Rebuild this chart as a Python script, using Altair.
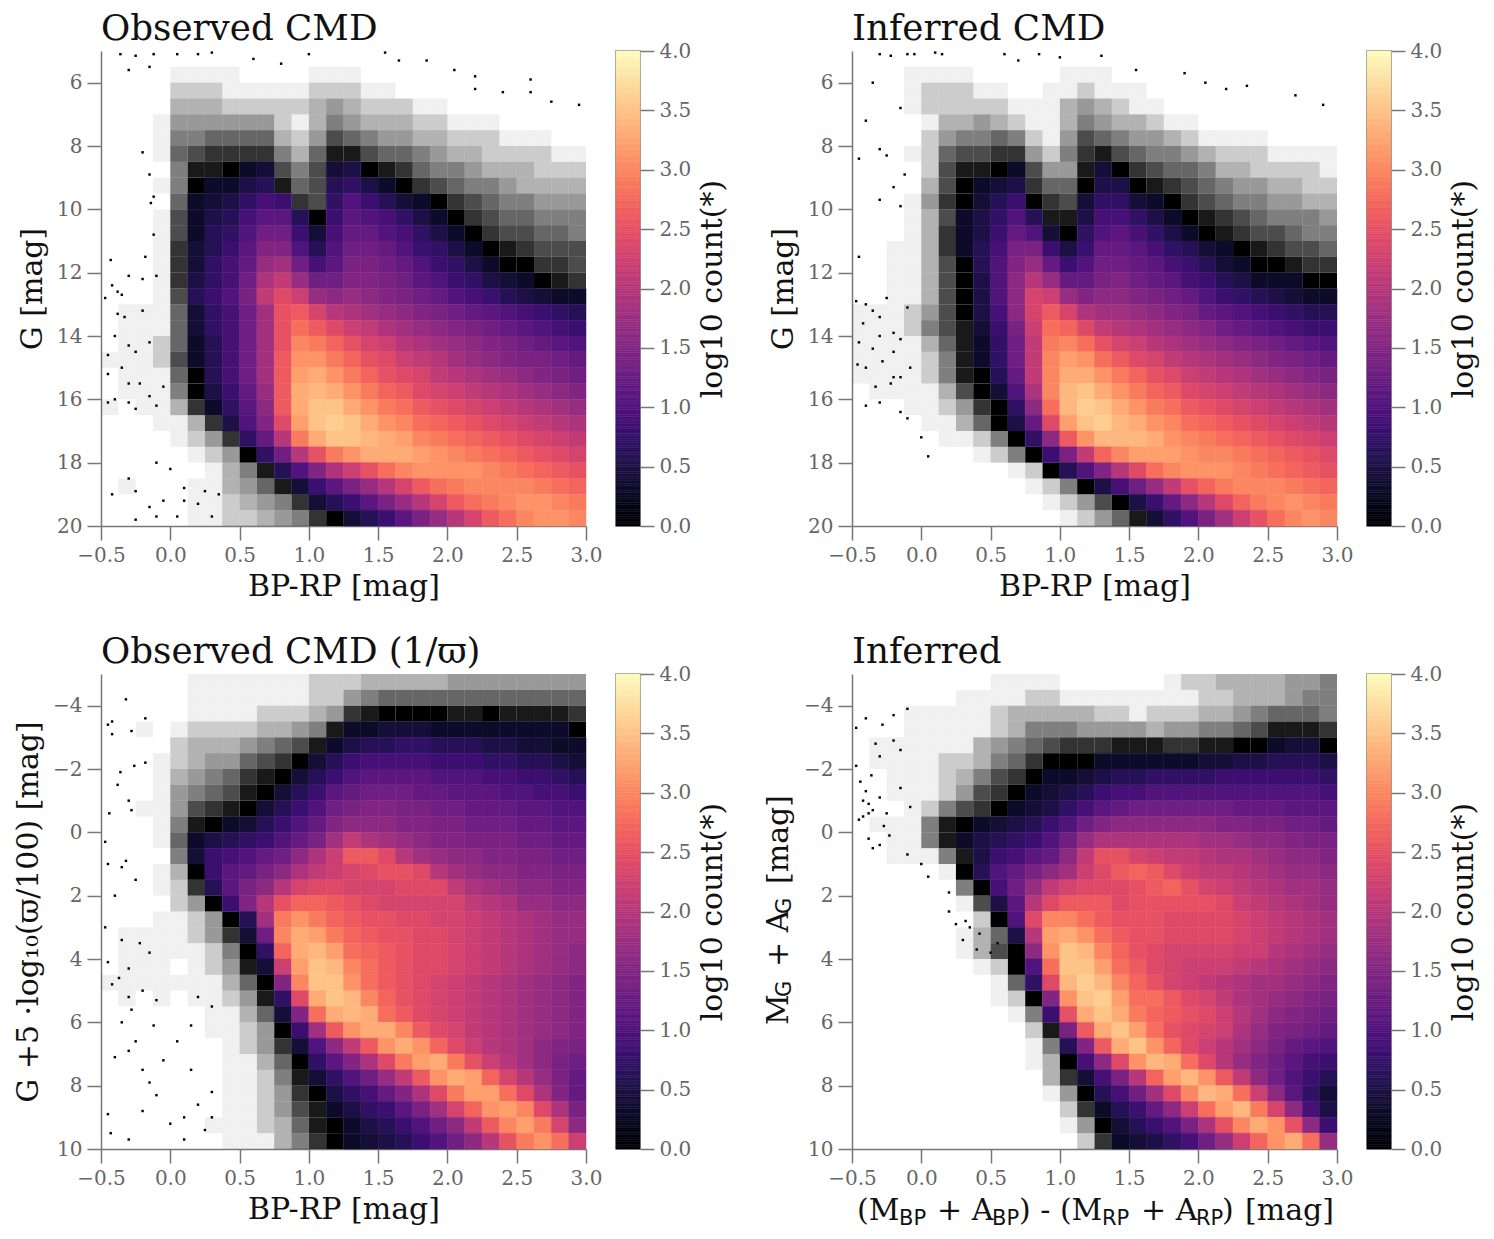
import altair as alt
import pandas as pd

SERIF = "DejaVu Serif"
X_EDGES = [-0.5 + 0.125 * i for i in range(29)]
Y_TOP = [5 + 0.5 * i for i in range(31)]
Y_BOT = [-5 + 0.5 * i for i in range(31)]
COLORBAR_LEVELS = [i * 0.02 for i in range(200)]

# values: >0 = log10(count) x 10 ; <0 = share of occupied pixels in sparse cells (tenths) ; 0 = empty
OBS_TOP = [
[0]*28,
[0,0,0,0,-1,-1,-1,-1,0,0,0,0,-1,-1,-1,0,0,0,0,0,0,0,0,0,0,0,0,0],
[0,0,0,0,-2,-2,-2,-1,-1,-1,-1,-1,-2,-2,-2,-1,-1,0,0,0,0,0,0,0,0,0,0,0],
[0,0,0,0,-3,-3,-3,-2,-2,-2,-2,-2,-3,-4,-3,-2,-2,-2,-1,-1,0,0,0,0,0,0,0,0],
[0,0,0,-1,-4,-4,-4,-4,-4,-4,-2,-1,-3,-5,-4,-3,-3,-3,-2,-2,-1,-1,-1,0,0,0,0,0],
[0,0,0,-1,-5,-5,-6,-6,-6,-6,-3,-2,-4,-7,-6,-5,-4,-4,-3,-3,-2,-2,-2,-1,-1,-1,0,0],
[0,0,0,-1,-6,-7,-8,-8,-8,-8,-5,-3,-6,-9,-9,-7,-6,-6,-5,-4,-3,-3,-2,-2,-2,-2,-1,-1],
[0,0,0,0,-5,-9,-9,-10,3,4,-7,-5,-7,4,5,-10,-9,-8,-6,-5,-5,-4,-3,-3,-3,-2,-2,-2],
[0,0,0,-1,-5,-10,3,3,5,6,-9,-6,-7,6,7,5,3,-10,-8,-7,-6,-5,-5,-4,-3,-3,-3,-3],
[0,0,0,0,-6,3,4,5,7,9,8,-8,-7,7,10,8,6,4,3,-10,-8,-7,-6,-5,-5,-4,-4,-4],
[0,0,0,-1,-7,3,5,6,9,11,11,6,-10,8,11,10,9,7,5,3,-10,-8,-7,-6,-6,-5,-5,-5],
[0,0,0,-1,-7,3,6,7,10,13,13,8,4,9,12,12,10,9,7,5,3,-10,-8,-7,-7,-6,-6,-5],
[0,0,0,-1,-8,4,6,8,11,15,15,10,6,10,13,13,12,10,8,7,5,3,-10,-9,-8,-7,-7,-7],
[0,0,0,-1,-8,4,7,9,12,17,18,13,9,11,14,14,13,12,10,8,7,5,3,-10,-10,-8,-8,-7],
[0,0,0,-1,-8,5,7,9,13,19,21,17,13,13,15,15,14,13,11,10,8,7,5,4,3,-10,-9,-8],
[0,0,0,-1,-7,6,8,10,14,21,24,22,17,16,17,16,15,14,13,12,10,9,8,6,5,4,3,3],
[0,-1,-1,-1,-6,4,7,9,13,18,25,26,23,20,19,18,17,16,15,14,13,12,11,10,9,8,7,6],
[0,-1,-1,-1,-6,4,7,9,13,18,25,28,26,24,22,21,19,18,17,16,15,14,13,12,11,10,9,8],
[0,-1,-1,-2,-6,3,6,9,13,18,25,30,29,27,25,23,22,20,19,18,17,16,15,14,13,12,11,10],
[-1,-1,-1,-2,-7,3,6,9,13,18,26,31,31,29,27,25,24,22,21,20,18,17,16,15,14,14,13,12],
[0,-1,-1,-1,-6,-10,6,9,13,18,26,32,33,31,29,27,25,24,23,21,20,19,18,17,16,15,14,13],
[0,-1,-1,-1,-5,-10,5,8,12,17,26,33,34,33,31,29,27,26,24,23,22,21,20,19,18,17,16,15],
[-1,0,-1,-1,-3,-8,3,7,11,16,26,33,35,35,33,31,29,28,26,25,24,23,22,21,20,19,18,17],
[0,0,0,-1,-1,-3,-8,5,10,15,24,32,35,36,35,33,31,30,28,27,26,25,24,23,22,21,20,19],
[0,0,0,0,-1,-2,-4,-8,7,12,20,29,33,35,35,34,33,32,30,29,28,27,26,25,24,23,22,21],
[0,0,0,0,0,-1,-2,-4,-10,7,13,20,25,29,31,33,33,33,32,31,30,29,28,27,26,25,24,23],
[0,0,0,0,0,0,-1,-3,-5,-9,6,10,15,19,22,25,28,30,31,31,31,31,30,29,28,27,26,25],
[0,-1,0,0,0,-1,-1,-3,-4,-6,-9,4,8,11,14,17,20,23,26,28,29,30,30,30,30,29,28,27],
[0,0,0,0,0,-1,-1,-2,-3,-4,-5,-8,4,6,8,11,14,17,20,23,26,28,29,30,31,31,30,29],
[0,0,0,0,0,-1,-1,-2,-2,-3,-4,-5,-8,-10,4,6,8,11,14,17,20,23,26,28,30,31,31,30],
]

INF_TOP = [
[0]*28,
[0,0,0,-1,-1,-1,-1,0,0,0,0,0,-1,-1,-1,0,0,0,0,0,0,0,0,0,0,0,0,0],
[0,0,0,-1,-2,-2,-2,-1,-1,0,0,-1,-1,-2,-1,-1,-1,0,0,0,0,0,0,0,0,0,0,0],
[0,0,0,-1,-2,-2,-2,-2,-2,-1,-1,-1,-3,-4,-3,-2,-1,-1,0,0,0,0,0,0,0,0,0,0],
[0,0,0,0,-1,-3,-3,-4,-3,-2,-1,-1,-3,-5,-4,-3,-3,-2,-1,-1,0,0,0,0,0,0,0,0],
[0,0,0,0,-2,-4,-5,-5,-6,-5,-2,-1,-4,-7,-6,-5,-4,-4,-3,-2,-1,-1,-1,-1,0,0,0,0],
[0,0,0,-1,-2,-6,-7,-7,-8,-8,-4,-2,-5,-8,-9,-7,-6,-5,-5,-4,-3,-2,-2,-2,-1,-1,-1,-1],
[0,0,0,0,-2,-7,-9,-9,-10,3,-7,-4,-4,-9,4,-10,-8,-7,-6,-6,-5,-3,-3,-2,-2,-2,-2,-1],
[0,0,0,0,-3,-7,-10,3,4,5,-8,-6,-6,-10,5,5,-10,-9,-8,-7,-6,-5,-4,-4,-3,-3,-2,-2],
[0,0,0,-1,-4,-8,-10,4,6,8,-10,-8,-7,4,7,7,4,3,-10,-8,-7,-6,-5,-5,-4,-4,-3,-3],
[0,0,0,-1,-3,-7,3,5,7,10,6,-9,-9,5,9,9,7,5,3,-10,-9,-8,-7,-6,-5,-5,-5,-4],
[0,0,0,-1,-3,-8,3,5,8,12,10,4,-10,7,10,11,9,7,5,3,-10,-9,-8,-7,-7,-6,-5,-5],
[0,0,-1,-1,-3,-8,3,6,9,14,14,8,5,8,12,12,11,9,7,6,4,3,-10,-9,-8,-7,-7,-6],
[0,0,-1,-1,-3,-7,-10,6,10,15,17,12,8,10,13,13,12,11,9,8,6,4,3,-10,-10,-9,-8,-8],
[0,0,-1,-1,-3,-7,-10,5,10,16,20,17,12,12,14,15,13,12,11,9,8,6,5,3,3,3,-10,-10],
[0,0,-1,-1,-3,-7,-10,5,10,16,23,22,17,15,16,16,15,14,13,12,10,8,7,6,5,4,3,3],
[-1,-1,-1,-2,-4,-7,-10,5,9,16,23,26,23,19,18,18,17,16,15,14,12,11,10,9,8,7,6,6],
[-1,-1,-1,-2,-5,-7,-9,4,8,14,22,28,27,24,21,20,19,18,17,16,15,13,12,11,10,9,8,8],
[-1,-1,-1,-1,-3,-6,-9,3,7,13,21,29,30,28,25,23,22,20,19,18,17,16,15,14,13,12,11,10],
[-1,-1,-1,-1,-2,-5,-9,3,7,13,21,30,32,31,28,26,24,23,21,20,19,18,17,16,15,14,13,12],
[-1,-1,-1,-1,-2,-5,-9,-10,6,12,21,30,33,33,31,29,27,25,24,22,21,20,19,18,17,16,15,14],
[0,-1,-1,-1,-1,-3,-7,-10,4,10,19,30,34,35,33,31,29,27,26,24,23,22,21,20,19,18,17,16],
[0,0,0,-1,-1,-2,-4,-8,-10,7,16,28,34,36,35,33,31,29,28,26,25,24,23,22,21,20,19,18],
[0,0,0,0,-1,-1,-3,-6,-10,5,12,24,32,35,36,34,33,31,30,28,27,26,25,24,23,22,21,20],
[0,0,0,0,0,-1,-1,-2,-5,-10,7,16,26,31,34,34,34,33,31,30,29,28,27,26,25,24,23,22],
[0,0,0,0,0,0,0,-1,-2,-5,-10,8,14,21,27,30,32,32,32,31,30,30,29,28,27,26,25,24],
[0,0,0,0,0,0,0,0,0,-1,-2,-10,6,10,15,20,24,28,30,31,31,31,30,29,28,27,26,25],
[0,0,0,0,0,0,0,0,0,0,-1,-2,-5,-10,5,9,13,17,21,25,27,29,30,30,30,29,28,27],
[0,0,0,0,0,0,0,0,0,0,0,-1,-2,-4,-7,-10,5,8,12,16,20,24,27,29,30,31,30,29],
[0,0,0,0,0,0,0,0,0,0,0,0,-1,-2,-4,-6,-9,4,7,10,14,18,22,25,28,30,31,30],
]

OBS_BOT = [
[0,0,0,0,0,-1,-1,-1,-1,-1,-1,-1,-2,-2,-2,-3,-3,-3,-3,-3,-4,-4,-4,-4,-4,-4,-4,-4],
[0,0,0,0,0,-1,-1,-1,-1,-1,-1,-1,-2,-2,-4,-5,-6,-6,-6,-6,-6,-6,-6,-6,-6,-6,-6,-6],
[0,0,0,0,0,-1,-1,-1,-1,-2,-2,-2,-3,-4,-8,-9,-10,-10,-10,-10,-9,-9,-10,-9,-9,-9,-9,-8],
[0,0,-1,0,-1,-2,-2,-2,-2,-3,-3,-4,-5,-9,3,3,4,4,4,3,3,3,3,3,3,3,3,-10],
[0,0,0,0,-2,-3,-3,-3,-4,-5,-6,-7,-9,3,5,6,6,7,7,6,6,6,5,5,4,4,3,3],
[0,0,0,-1,-2,-3,-4,-4,-6,-7,-8,-10,4,6,8,9,9,9,9,8,8,8,7,7,6,6,5,4],
[0,0,0,-1,-3,-4,-5,-6,-8,-9,-10,4,6,8,10,11,11,11,11,10,10,10,9,9,8,8,7,6],
[0,0,0,-1,-4,-5,-6,-7,-9,-10,4,6,8,11,12,13,13,13,12,12,11,11,11,10,10,9,9,8],
[0,0,-1,-1,-4,-7,-8,-9,-10,4,6,8,10,13,14,15,15,14,14,13,13,12,12,12,11,11,10,10],
[0,0,0,-1,-5,-9,-10,3,4,6,8,10,12,15,16,16,16,15,15,14,14,13,13,13,12,12,11,11],
[0,0,0,-1,-6,3,5,6,7,8,10,12,14,18,21,19,18,17,16,15,15,14,14,14,13,13,12,12],
[0,0,0,0,-5,4,8,9,10,12,13,16,19,22,26,26,24,20,18,17,16,16,15,15,14,14,13,13],
[0,0,0,-1,-3,-10,8,11,12,14,16,19,21,22,23,24,25,25,24,20,18,17,16,16,15,15,14,14],
[0,0,0,-1,-2,-8,6,11,14,16,20,23,24,24,23,23,23,24,24,24,21,19,18,17,16,16,15,15],
[0,0,0,0,-2,-4,-10,8,15,20,25,27,27,26,25,24,23,23,23,23,23,21,20,19,17,17,16,16],
[0,0,0,-1,-1,-2,-4,-10,6,18,29,31,29,27,26,25,25,24,24,23,23,22,21,20,19,18,17,17],
[0,-1,-1,-1,-1,-2,-4,-8,4,13,30,33,32,29,27,26,25,25,24,24,23,22,21,20,19,18,17,17],
[0,-1,-1,-1,-1,-1,-2,-5,-10,7,27,33,34,32,28,27,26,25,24,24,23,22,21,20,19,18,17,16],
[0,-1,-1,-1,0,-1,-2,-4,-9,4,22,32,35,34,30,28,26,25,24,24,23,22,21,20,19,18,17,16],
[-1,-1,-1,-1,-1,-1,-1,-3,-6,-10,15,30,35,35,31,28,26,25,24,23,22,21,20,19,18,17,16,15],
[0,-1,0,-1,0,-1,-1,-2,-4,-9,7,24,33,35,34,30,27,25,24,23,22,21,20,19,18,17,16,15],
[0,0,0,0,0,0,-1,-1,-3,-6,4,15,28,33,34,33,28,26,24,23,22,21,20,19,18,17,16,15],
[0,0,0,0,0,0,-1,-1,-2,-4,-10,8,18,26,31,33,33,30,26,24,23,21,20,19,18,17,16,15],
[0,0,0,0,0,0,0,-1,-2,-4,-8,4,10,16,21,26,31,33,31,27,24,22,20,19,18,16,15,14],
[0,0,0,0,0,0,0,-1,-1,-3,-6,-10,7,11,15,19,24,29,32,33,29,25,22,20,18,16,14,13],
[0,0,0,0,0,0,0,-1,-1,-2,-5,-9,4,7,10,13,17,21,26,31,33,32,27,23,20,17,14,12],
[0,0,0,0,0,0,0,-1,-1,-2,-4,-8,-10,5,7,9,12,15,19,24,29,32,32,28,24,19,15,12],
[0,0,0,0,0,0,0,-1,-1,-2,-4,-7,-9,3,5,7,8,11,14,18,23,27,31,32,30,24,19,14],
[0,0,0,0,0,0,-1,-1,-1,-2,-3,-6,-9,-10,3,5,6,8,10,13,16,21,26,30,32,29,23,16],
[0,0,0,0,0,0,0,-1,-1,-1,-3,-5,-8,-10,3,4,5,6,8,10,13,16,20,25,29,31,28,22],
]

INF_BOT = [
[0,0,0,0,0,0,0,0,-1,-1,-1,-1,0,0,0,0,0,0,-1,-2,-2,-3,-3,-3,-3,-4,-4,-5],
[0,0,0,0,0,0,-1,-1,-1,-1,-2,-2,-1,-1,-1,-1,-1,-1,-1,-1,-2,-2,-3,-3,-3,-4,-5,-5],
[0,0,0,-1,-1,-1,-1,-1,-2,-3,-3,-3,-3,-3,-2,-2,-1,-2,-2,-2,-3,-3,-4,-5,-6,-6,-6,-5],
[0,0,0,-1,-1,-1,-1,-1,-2,-3,-5,-5,-5,-4,-4,-4,-4,-3,-4,-4,-5,-5,-6,-7,-9,-9,-9,-8],
[0,-1,-1,-1,-1,-1,-1,-3,-4,-5,-6,-7,-8,-8,-8,-9,-9,-9,-8,-8,-9,-9,-10,-10,3,4,4,-10],
[0,-1,-1,-1,-1,-2,-2,-3,-5,-6,-8,-10,-10,-10,3,3,3,3,3,3,4,4,5,5,6,6,6,5],
[0,0,-1,-1,-1,-2,-3,-5,-7,-8,-10,3,3,4,5,6,6,7,7,7,7,8,8,8,8,8,8,7],
[0,0,-1,-1,-1,-2,-4,-7,-8,-10,3,4,5,6,8,9,9,10,10,10,10,10,10,10,10,10,10,9],
[0,0,0,-1,-2,-5,-7,-8,-10,3,4,5,7,9,11,12,13,13,13,13,13,13,12,12,12,11,11,11],
[0,-1,-1,-1,-5,-9,-10,3,4,5,6,8,10,13,15,16,16,16,16,16,16,15,15,14,14,13,13,12],
[0,0,-1,-1,-5,-9,3,5,6,7,8,10,13,17,19,19,19,19,19,19,18,18,17,16,16,15,14,14],
[0,0,-1,-1,-1,-5,-9,5,8,9,11,12,16,21,25,25,23,22,21,21,20,19,19,18,17,16,16,15],
[0,0,0,0,0,-1,-10,6,10,12,14,16,18,22,24,26,27,26,24,22,21,21,20,19,18,17,17,16],
[0,0,0,0,0,0,-5,-10,9,13,17,21,23,24,24,24,25,26,27,25,23,22,21,20,19,18,18,17],
[0,0,0,0,0,0,-1,-7,5,11,20,24,26,26,26,24,25,25,25,25,25,24,22,21,20,19,18,17],
[0,0,0,0,0,0,0,-2,-10,10,24,30,30,28,26,25,25,25,24,24,24,24,23,22,21,20,19,18],
[0,0,0,0,0,0,-1,-3,-6,5,20,32,33,31,28,26,25,25,24,24,24,24,23,22,21,20,19,18],
[0,0,0,0,0,0,-1,-3,-7,-10,16,31,35,34,30,27,25,24,23,23,23,23,22,22,20,19,18,17],
[0,0,0,0,0,0,0,-1,-2,-10,10,28,35,35,32,28,26,24,23,22,22,22,21,20,19,18,17,16],
[0,0,0,0,0,0,0,0,-1,-6,7,24,34,36,34,30,27,25,23,22,21,20,19,18,18,17,16,15],
[0,0,0,0,0,0,0,0,-1,-2,-10,15,31,35,36,32,28,28,26,24,23,21,19,18,17,16,15,14],
[0,0,0,0,0,0,0,0,0,-1,-5,8,25,33,35,33,29,27,26,25,24,22,20,18,16,15,14,13],
[0,0,0,0,0,0,0,0,0,0,-2,-9,14,26,33,35,32,28,25,24,23,22,19,17,15,14,13,12],
[0,0,0,0,0,0,0,0,0,0,-1,-5,6,15,26,33,35,31,27,24,22,20,18,16,14,12,11,10],
[0,0,0,0,0,0,0,0,0,0,-1,-3,-10,9,16,24,31,34,33,28,24,20,17,15,13,11,9,8],
[0,0,0,0,0,0,0,0,0,0,0,-3,-8,4,9,14,20,27,32,34,31,26,21,16,13,10,8,6],
[0,0,0,0,0,0,0,0,0,0,0,-1,-4,-10,6,9,13,18,24,30,34,33,28,22,16,11,7,4],
[0,0,0,0,0,0,0,0,0,0,0,0,-2,-8,3,6,8,12,16,22,28,32,34,29,23,16,9,5],
[0,0,0,0,0,0,0,0,0,0,0,0,-1,-4,-10,4,6,8,10,14,19,25,30,33,31,25,16,8],
[0,0,0,0,0,0,0,0,0,0,0,0,0,-2,-8,3,4,5,7,9,13,17,22,27,31,33,28,17],
]

# isolated single-pixel sources outside the dense cloud
OBS_TOP_X = [-.36,-.25,-.12,.05,.2,.3,.6,.8,1.0,1.55,1.65,1.85,2.05,2.2,2.6,2.2,2.4,2.95,2.6,2.75,-.3,-.15,-.2,-.12,-.15,-.14,-.12,-.43,-.18,-.3,-.42,-.38,-.1,-.2,-.47,-.35,-.38,-.33,-.4,-.45,-.3,-.2,-.25,-.15,-.35,-.45,-.3,-.22,-.05,-.4,-.45,-.25,-.15,-.1,-.3,-.42,-.25,-.3,-.1,-.15,-.1,-.25,-.05,0,.1,.1,.05,.2,.25,.3,.35]
OBS_TOP_Y = [5.1,5.15,5.1,5.1,5.1,5.05,5.25,5.4,5.1,5.05,5.3,5.3,5.6,5.8,5.9,6.2,6.3,6.7,6.3,6.6,5.6,5.5,8.2,9.6,8.9,9.8,10.8,11.6,11.5,12.1,12.4,12.6,12.1,12.2,12.8,12.7,13.3,13.4,14,14.6,14.3,13.2,14.5,14.2,15,15.2,15.5,15.5,15.6,16,16.1,16.3,15.9,16.2,16.1,19,18.9,18.5,18,19.4,19.7,19.8,19.2,18.2,18.8,19.2,19.7,19.3,18.9,19.7,19]
INF_TOP_X = [-.3,-.22,-.1,-.05,.1,.15,.6,.7,.85,1.0,1.3,1.55,1.9,2.05,2.2,2.35,2.7,2.9,-.35,-.4,-.15,-.3,-.45,-.25,-.12,-.3,-.2,-.15,-.45,-.47,-.4,-.35,-.3,-.42,-.25,-.2,-.1,-.45,-.35,-.3,-.2,-.15,-.46,-.4,-.28,-.2,-.33,-.22,-.15,-.08,-.3,-.4,-.15,-.1,0,.05]
INF_TOP_Y = [5.1,5.15,5.1,5.1,5.05,5.1,5.1,5.3,5.1,5.2,5.15,5.6,5.7,6.0,6.2,6.1,6.4,6.7,6.0,7.2,6.8,8.1,8.4,8.3,8.9,9.7,9.3,9.9,11.5,12.9,13.0,13.2,13.4,13.6,12.8,13.9,13.1,14.2,14.4,14.0,14.5,14.1,14.9,15.0,14.8,15.3,15.6,15.5,15.3,15.0,16.1,16.2,16.4,16.6,17.2,17.8]
OBS_BOT_X = [-.42,-.28,-.18,-.32,-.45,-.42,-.36,-.26,-.18,-.38,-.44,-.28,-.3,-.47,-.45,-.35,-.32,-.25,-.4,-.47,-.35,-.45,-.3,-.22,-.15,-.37,-.42,-.3,-.2,-.28,-.1,-.35,-.12,-.4,-.45,-.43,-.3,-.2,-.15,-.05,-.1,.0,.1,-.25,-.3,-.2,.05,.15,.2,.3,.1,.25,.15,.3,.3,.2]
OBS_BOT_Y = [-3.5,-3.2,-3.6,-4.2,-3.4,-3.1,-1.9,-2.1,-2.2,-1.5,-.6,-.7,-1.0,.3,1.0,1.1,.9,1.5,2.0,3.0,3.4,4.1,4.3,3.5,3.8,4.6,4.8,5.2,5.0,5.6,5.3,6.0,6.1,7.1,8.9,9.5,9.7,8.8,7.9,7.2,8.3,9.2,9.7,6.6,6.9,7.5,6.6,7.5,8.6,8.2,9.0,9.4,6.1,9.0,5.5,5.2]
INF_BOT_X = [-.47,-.44,-.4,-.36,-.3,-.42,-.38,-.35,-.3,-.25,-.2,-.15,-.45,-.47,-.4,-.33,-.28,-.2,-.1,-.27,-.23,-.15,-.08,-.38,-.35,-.3,-.42,-.38,-.1,.0,.05,.2,.2,.25,.3,.32,.35,.4,.42,.5,.55]
INF_BOT_Y = [-2.1,-1.6,-1.3,-1.8,-2.4,-1.0,-.9,-.7,-1.1,-.6,-2.9,-2.6,-.4,-3.3,-3.6,-2.8,-3.4,-3.7,-3.9,-.2,.1,-1.4,-.8,.2,.5,.4,-.5,-.6,.7,1.0,1.4,1.9,2.5,2.9,3.4,2.8,3.0,3.7,3.2,3.8,3.5]

PALE = "#777777"
LABEL = "#666666"
COLOR_SCALE = alt.Scale(scheme="magma", domain=[0, 4])


def heat_frames(grid, edges):
    solid, sparse = [], []
    for r, row in enumerate(grid):
        for c, v in enumerate(row):
            rec = dict(x0=X_EDGES[c], x1=X_EDGES[c + 1], y0=edges[r], y1=edges[r + 1])
            if v > 0:
                solid.append({**rec, "v": v / 10})
            elif v < 0:
                sparse.append({**rec, "share": 0.06 if v == -1 else -v / 10})
    return pd.DataFrame(solid), pd.DataFrame(sparse)


def panel(title, grid, edges, ydomain, yticks, xs, ys, xtitle, ytitle, extra=None):
    solid, sparse = heat_frames(grid, edges)
    xs_enc = alt.X("x0:Q", scale=alt.Scale(domain=[-0.5, 3], nice=False),
                   axis=alt.Axis(values=[-0.5, 0, 0.5, 1, 1.5, 2, 2.5, 3], format=".1f", title=xtitle,
                                 labelFlush=False))
    ys_enc = alt.Y("y0:Q", scale=alt.Scale(domain=ydomain, nice=False, zero=False),
                   axis=alt.Axis(values=yticks, format="d", title=ytitle, labelFlush=False, titlePadding=9))
    s = alt.Chart(sparse).mark_rect(color="black").encode(
        x=xs_enc, x2="x1:Q", y=ys_enc, y2="y1:Q",
        opacity=alt.Opacity("share:Q", scale=alt.Scale(domain=[0, 1], range=[0, 1]), legend=None))
    h = alt.Chart(solid).mark_rect(strokeWidth=0.5).encode(
        x=xs_enc, x2="x1:Q", y=ys_enc, y2="y1:Q",
        color=alt.Color("v:Q", scale=COLOR_SCALE, legend=None),
        stroke=alt.Stroke("v:Q", scale=COLOR_SCALE, legend=None))
    d = alt.Chart(pd.DataFrame({"x0": xs, "y0": ys})).mark_square(size=6, color="black", opacity=1).encode(
        x=xs_enc, y=ys_enc)
    layers = [s, h, d] + (extra or [])
    return alt.layer(*layers).resolve_scale(color="shared").properties(
        width=485, height=475,
        title=alt.TitleParams(title, anchor="start", frame="group", fontSize=35.7, font=SERIF,
                              fontWeight="normal", offset=3, color="#111111"))


def colorbar():
    df = pd.DataFrame({"a": COLORBAR_LEVELS})
    df["b"] = df["a"] + 0.02
    return alt.Chart(df).mark_rect(strokeWidth=0.5).encode(
        y=alt.Y("a:Q", scale=alt.Scale(domain=[0, 4], nice=False),
                axis=alt.Axis(orient="right", values=[0, .5, 1, 1.5, 2, 2.5, 3, 3.5, 4], format=".1f",
                              title="log10 count(*)", titleAngle=270, domain=False, titlePadding=7,
                              titleBaseline="top", labelFlush=False)),
        y2="b:Q",
        color=alt.Color("a:Q", scale=COLOR_SCALE, legend=None),
        stroke=alt.Stroke("a:Q", scale=COLOR_SCALE, legend=None),
    ).properties(width=24, height=475, view=alt.ViewBackground(stroke=PALE, strokeWidth=1.5))


def spacer():
    return alt.Chart(pd.DataFrame({"a": [0]})).mark_point(opacity=0).encode(
        x=alt.X("a:Q", axis=None), y=alt.Y("a:Q", axis=None)
    ).properties(width=152, height=475)


def piece(text, px, py, size=30, font=SERIF, angle=0):
    return alt.Chart(pd.DataFrame({"t": [text]})).mark_text(
        font=font, fontSize=size, align="left", baseline="alphabetic", angle=angle, color="#111111"
    ).encode(text="t:N", x=alt.value(px), y=alt.value(py))


SANS = "DejaVu Sans"
SUB = 21
x_pieces = [("(M", 5, SERIF), ("BP", 47, SANS), ("+ A", 85, SERIF), ("BP", 140, SANS), (") - (M", 167, SERIF),
            ("RP", 250, SANS), ("+ A", 289, SERIF), ("RP", 344, SANS), (")", 370, SERIF), ("[mag]", 393, SERIF)]
y_pieces = [("M", 351, SERIF), ("G", 323, SANS), ("+ A", 293, SERIF), ("G", 240, SANS), ("[mag]", 210, SERIF)]
extra_d = [piece(t, px, 546 if f == SERIF else 551, 30 if f == SERIF else SUB, f) for t, px, f in x_pieces]
extra_d += [piece(t, -64 if f == SERIF else -61, py, 30 if f == SERIF else SUB, f, angle=270) for t, py, f in y_pieces]

a = panel("Observed CMD", OBS_TOP, Y_TOP, [20, 5], list(range(6, 21, 2)), OBS_TOP_X, OBS_TOP_Y, "BP-RP [mag]", "G [mag]")
b = panel("Inferred CMD", INF_TOP, Y_TOP, [20, 5], list(range(6, 21, 2)), INF_TOP_X, INF_TOP_Y, "BP-RP [mag]", "G [mag]")
c = panel("Observed CMD (1/ϖ)", OBS_BOT, Y_BOT, [10, -5], list(range(-4, 11, 2)), OBS_BOT_X, OBS_BOT_Y, "BP-RP [mag]",
          "G +5 ·log₁₀(ϖ/100) [mag]")
d = panel("Inferred", INF_BOT, Y_BOT, [10, -5], list(range(-4, 11, 2)), INF_BOT_X, INF_BOT_Y, None, None, extra_d)

chart = alt.concat(a, colorbar(), spacer(), b, colorbar(),
                   c, colorbar(), spacer(), d, colorbar(),
                   columns=5, spacing=alt.RowColnumber(column=30, row=148), bounds="flush"
).resolve_scale(color="independent", opacity="independent", stroke="independent").configure_view(stroke=None).configure_axis(
    grid=False, domainColor=PALE, domainWidth=1.5, tickColor=PALE, tickWidth=1.5, tickSize=14,
    labelColor=LABEL, labelFontSize=20, labelFont=SERIF, labelPadding=5,
    titleFont=SERIF, titleFontSize=30, titleFontWeight="normal", titleColor="#111111", titlePadding=6,
    labelOverlap=False,
).properties(padding={"left": 5, "top": 3, "right": 5, "bottom": 5}, background="white")

chart.save("out.html", embed_options={"renderer": "svg", "actions": False})
